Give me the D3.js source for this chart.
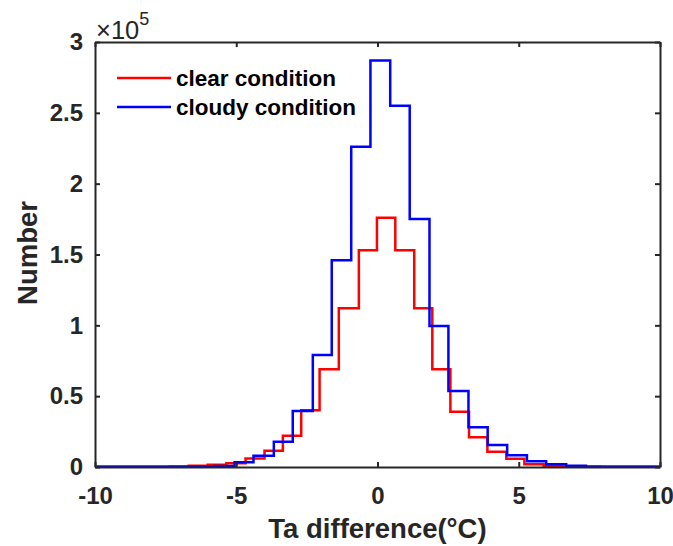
<!DOCTYPE html>
<html><head><meta charset="utf-8">
<script src="https://cdn.jsdelivr.net/npm/d3@7"></script>
<style>html,body{margin:0;padding:0;background:#fff;}svg{display:block;}</style>
</head><body>
<script>
// Bin edges and counts (in units of 1e5)
const clearEdges = [-10, -7.35, -6.68, -6.01, -5.35, -4.67, -4.00, -3.35, -2.70, -2.05, -1.37, -0.66, -0.02, 0.63, 1.30, 1.94, 2.58, 3.24, 3.89, 4.56, 5.20, 5.88, 6.53, 7.18, 7.90, 10];
const clearValues = [0.001, 0.004, 0.009, 0.016, 0.026, 0.060, 0.115, 0.220, 0.400, 0.690, 1.120, 1.530, 1.760, 1.530, 1.120, 0.690, 0.390, 0.210, 0.108, 0.059, 0.020, 0.008, 0.004, 0.003, 0.001];
const cloudyEdges = [-10, -5.77, -5.06, -4.39, -3.67, -3.00, -2.29, -1.62, -0.93, -0.25, 0.45, 1.14, 1.84, 2.51, 3.22, 3.90, 4.59, 5.29, 5.97, 6.68, 7.38, 10];
const cloudyValues = [0.002, 0.007, 0.033, 0.080, 0.179, 0.395, 0.790, 1.460, 2.260, 2.870, 2.550, 1.750, 0.995, 0.536, 0.280, 0.155, 0.083, 0.040, 0.020, 0.008, 0.002];
const seriesNames = ["clear condition", "cloudy condition"];
const seriesColors = ["#ff0000", "#0000ff"];
const xTicks = [-10, -5, 0, 5, 10];
const yTicks = [0, 0.5, 1, 1.5, 2, 2.5, 3];

const W = 673, H = 546;
const m = {left: 95, right: 13, top: 42, bottom: 79};
const svg = d3.select("body").append("svg").attr("width", W).attr("height", H);
const x = d3.scaleLinear().domain([-10, 10]).range([m.left, W - m.right]);
const y = d3.scaleLinear().domain([0, 3]).range([H - m.bottom, m.top]);
const font = "'Liberation Sans', Arial, sans-serif";
const axisColor = "#262626";

svg.append("defs").append("clipPath").attr("id", "clip").append("rect")
  .attr("x", m.left).attr("y", m.top - 2).attr("width", W - m.left - m.right).attr("height", H - m.top - m.bottom + 2);

function stairs(edges, vals) {
  const pts = [[edges[0], 0]];
  vals.forEach((v, i) => { pts.push([edges[i], v]); pts.push([edges[i + 1], v]); });
  pts.push([edges[edges.length - 1], 0]);
  return d3.line().x(d => x(d[0])).y(d => y(d[1]))(pts);
}

const g = svg.append("g").attr("clip-path", "url(#clip)");
[[clearEdges, clearValues], [cloudyEdges, cloudyValues]].forEach((s, i) => {
  g.append("path").attr("d", stairs(s[0], s[1])).attr("fill", "none")
    .attr("stroke", seriesColors[i]).attr("stroke-width", 2.5).attr("stroke-linejoin", "miter");
});

// axes with inward ticks on all four sides
const tl = 5;
const bottomAxis = d3.axisBottom(x).tickValues(xTicks).tickSizeInner(-tl).tickSizeOuter(0).tickPadding(20).tickFormat(d => String(d));
const topAxis = d3.axisTop(x).tickValues(xTicks).tickSizeInner(-tl).tickSizeOuter(0).tickFormat("");
const leftAxis = d3.axisLeft(y).tickValues(yTicks).tickSizeInner(-tl).tickSizeOuter(0).tickPadding(12).tickFormat(d => String(d));
const rightAxis = d3.axisRight(y).tickValues(yTicks).tickSizeInner(-tl).tickSizeOuter(0).tickFormat("");

function style(sel) {
  sel.select(".domain").attr("stroke", axisColor).attr("stroke-width", 2);
  sel.selectAll(".tick line").attr("stroke", axisColor).attr("stroke-width", 2);
  sel.selectAll(".tick text").attr("fill", axisColor).style("font-family", font).style("font-weight", "bold").style("font-size", "24px");
}
svg.append("g").attr("transform", `translate(0,${H - m.bottom})`).call(bottomAxis).call(style);
svg.append("g").attr("transform", `translate(0,${m.top})`).call(topAxis).call(style);
svg.append("g").attr("transform", `translate(${m.left},0)`).call(leftAxis).call(style);
svg.append("g").attr("transform", `translate(${W - m.right},0)`).call(rightAxis).call(style);

// exponent label
const ex = svg.append("text").attr("x", m.left + 1).attr("y", 39).attr("fill", axisColor)
  .style("font-family", font).style("font-size", "25.5px");
ex.append("tspan").text("\u00d710");
ex.append("tspan").attr("dy", -14).style("font-size", "18px").text("5");

// axis labels
svg.append("text").attr("x", (m.left + W - m.right) / 2).attr("y", 538).attr("text-anchor", "middle")
  .attr("fill", axisColor).style("font-family", font).style("font-weight", "bold").style("font-size", "27.5px")
  .text("Ta difference(\u00b0C)");
svg.append("text").attr("transform", "translate(37,253) rotate(-90)").attr("text-anchor", "middle")
  .attr("fill", axisColor).style("font-family", font).style("font-weight", "bold").style("font-size", "27.5px")
  .text("Number");

// legend
const lg = svg.append("g");
seriesNames.forEach((n, i) => {
  const yy = 78 + i * 29;
  lg.append("line").attr("x1", 117).attr("x2", 171).attr("y1", yy).attr("y2", yy)
    .attr("stroke", seriesColors[i]).attr("stroke-width", 2.5);
  lg.append("text").attr("x", 176).attr("y", yy + 8).attr("fill", "#000")
    .style("font-family", font).style("font-weight", "bold").style("font-size", "22.5px").text(n);
});
</script>
</body></html>
